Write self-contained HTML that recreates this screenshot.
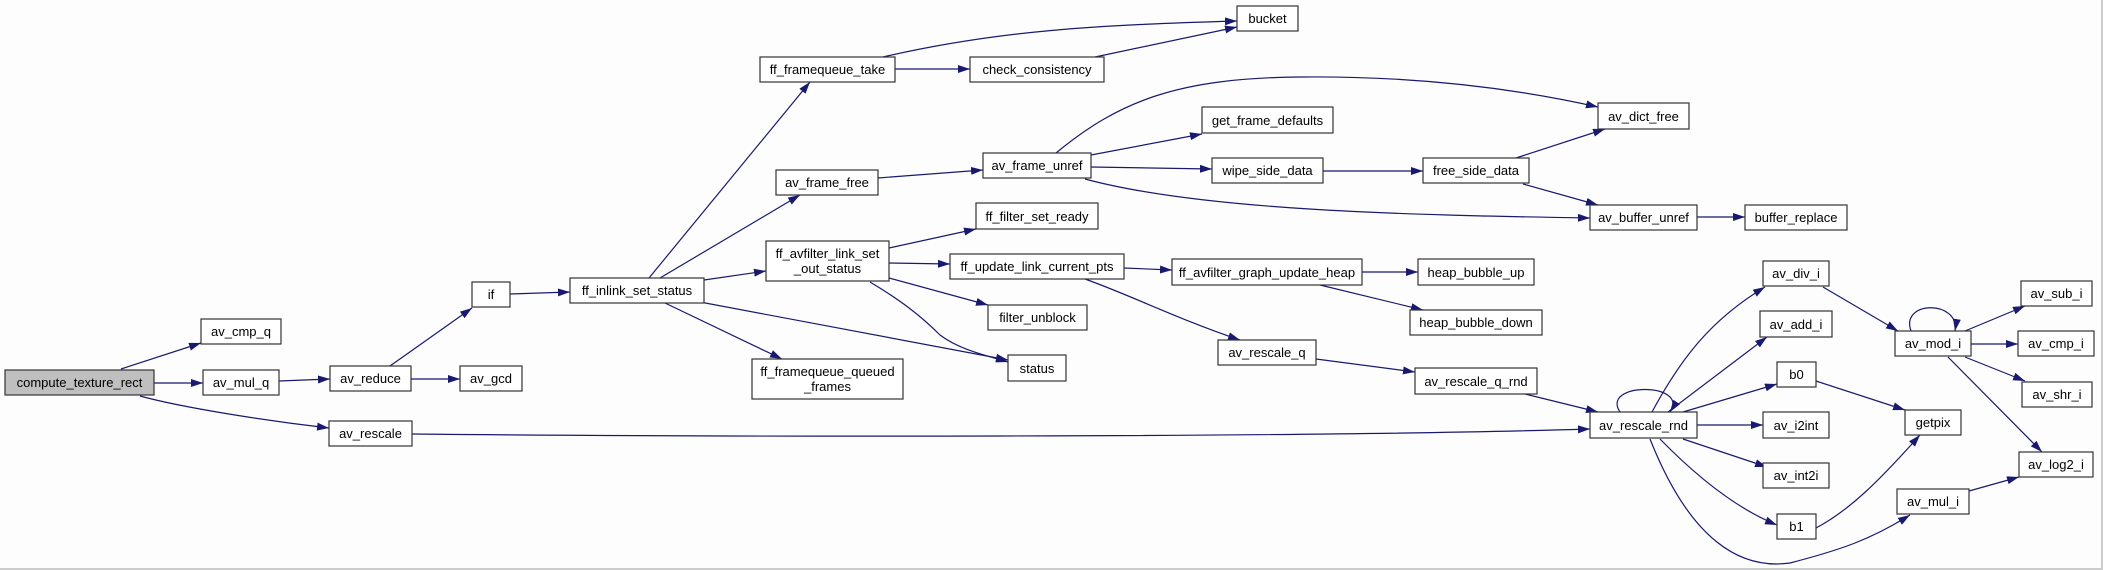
<!DOCTYPE html>
<html><head><meta charset="utf-8"><style>
html,body{margin:0;padding:0;background:#fff;}
svg{display:block;}
text{font-family:"Liberation Sans",Arial,sans-serif;font-size:13px;fill:#000;}
</style></head><body>
<svg width="2103" height="570" viewBox="0 0 2103 570" xmlns="http://www.w3.org/2000/svg">
<defs>
<marker id="a" markerUnits="userSpaceOnUse" markerWidth="13" markerHeight="9" refX="12" refY="4" orient="auto">
<path d="M0,0 L12,4 L0,8 z" fill="#191970"/>
</marker>
</defs>
<rect x="0" y="0" width="2103" height="570" fill="#fdfdfd"/>
<line x1="0" y1="569" x2="2103" y2="569" stroke="#ccc" stroke-width="2"/>
<line x1="2102" y1="0" x2="2102" y2="570" stroke="#ccc" stroke-width="2"/>
<g fill="none" stroke="#191970" stroke-width="1.2" marker-end="url(#a)">
<path d="M121,369 L201,343"/>
<path d="M154,383 L203,383"/>
<path d="M140,396 C180,407 260,420 329,428"/>
<path d="M279,381 L330,379"/>
<path d="M390,366 L472,308"/>
<path d="M411,379 L460,379"/>
<path d="M412,434 C700,437 1300,438 1590,429"/>
<path d="M510,294 L570,292"/>
<path d="M649,278 L810,82"/>
<path d="M660,278 L800,195"/>
<path d="M704,280 L766,271"/>
<path d="M700,302 L1008,360"/>
<path d="M665,303 L782,359"/>
<path d="M883,57 C1000,30 1100,25 1237,21"/>
<path d="M895,69 L970,69"/>
<path d="M1095,57 L1237,27"/>
<path d="M878,178 L983,170"/>
<path d="M1056,153 C1120,100 1180,78 1300,77 C1400,76 1500,85 1598,107"/>
<path d="M1091,155 L1202,134"/>
<path d="M1091,167 L1212,169"/>
<path d="M1085,179 C1200,210 1400,215 1590,218"/>
<path d="M1323,171 L1423,171"/>
<path d="M1516,158 L1605,129"/>
<path d="M1523,184 L1598,205"/>
<path d="M1697,217 L1745,217"/>
<path d="M889,248 L976,229"/>
<path d="M889,263 L950,264"/>
<path d="M889,278 L988,305"/>
<path d="M870,282 C900,300 920,315 940,335 C960,350 985,355 1008,362"/>
<path d="M1124,268 L1172,270"/>
<path d="M1085,279 C1130,295 1180,320 1240,340"/>
<path d="M1362,272 L1418,272"/>
<path d="M1320,285 L1423,310"/>
<path d="M1316,359 L1415,372"/>
<path d="M1525,394 L1598,412"/>
<path d="M1620,412 C1600,382 1690,382 1670,412"/>
<path d="M1652,412 C1680,360 1710,320 1765,287"/>
<path d="M1668,412 L1767,337"/>
<path d="M1683,412 L1777,384"/>
<path d="M1697,425 L1763,425"/>
<path d="M1683,439 L1767,467"/>
<path d="M1660,439 C1700,480 1740,510 1777,525"/>
<path d="M1650,439 C1690,540 1740,570 1790,563 C1840,550 1870,540 1910,515"/>
<path d="M1823,287 L1898,331"/>
<path d="M1816,381 L1905,410"/>
<path d="M1816,528 C1850,510 1880,480 1920,435"/>
<path d="M1911,331 C1900,300 1960,300 1955,331"/>
<path d="M1965,331 L2025,306"/>
<path d="M1971,344 L2018,344"/>
<path d="M1965,357 L2025,381"/>
<path d="M1948,357 L2042,452"/>
<path d="M1969,491 L2019,477"/>
</g>
<g stroke="#333" stroke-width="1.2" fill="#fff">
<rect x="5" y="370" width="149" height="25" fill="#bfbfbf"/>
<rect x="201" y="319" width="80" height="25"/>
<rect x="203" y="370" width="76" height="25"/>
<rect x="330" y="366" width="81" height="25"/>
<rect x="460" y="366" width="62" height="25"/>
<rect x="329" y="421" width="83" height="25"/>
<rect x="472" y="282" width="38" height="25"/>
<rect x="570" y="278" width="134" height="25"/>
<rect x="1237" y="6" width="61" height="25"/>
<rect x="760" y="57" width="135" height="25"/>
<rect x="970" y="57" width="134" height="25"/>
<rect x="1202" y="107" width="131" height="26"/>
<rect x="983" y="153" width="108" height="25"/>
<rect x="1212" y="158" width="111" height="25"/>
<rect x="776" y="170" width="102" height="25"/>
<rect x="976" y="203" width="122" height="26"/>
<rect x="766" y="241" width="123" height="40"/>
<rect x="950" y="254" width="174" height="25"/>
<rect x="1172" y="259" width="190" height="26"/>
<rect x="988" y="305" width="99" height="25"/>
<rect x="1008" y="355" width="58" height="26"/>
<rect x="752" y="359" width="151" height="40"/>
<rect x="1218" y="340" width="98" height="25"/>
<rect x="1598" y="103" width="91" height="26"/>
<rect x="1423" y="158" width="106" height="25"/>
<rect x="1590" y="205" width="107" height="25"/>
<rect x="1745" y="205" width="102" height="25"/>
<rect x="1418" y="259" width="116" height="26"/>
<rect x="1410" y="310" width="132" height="25"/>
<rect x="1415" y="368" width="122" height="26"/>
<rect x="1590" y="412" width="107" height="26"/>
<rect x="1763" y="261" width="66" height="25"/>
<rect x="1760" y="311" width="72" height="26"/>
<rect x="1777" y="362" width="39" height="25"/>
<rect x="1763" y="412" width="66" height="26"/>
<rect x="1763" y="463" width="66" height="25"/>
<rect x="1777" y="514" width="39" height="25"/>
<rect x="1905" y="410" width="56" height="25"/>
<rect x="1895" y="331" width="76" height="25"/>
<rect x="2021" y="281" width="71" height="25"/>
<rect x="2018" y="331" width="76" height="25"/>
<rect x="2022" y="382" width="70" height="25"/>
<rect x="2019" y="452" width="74" height="25"/>
<rect x="1897" y="489" width="72" height="25"/>
</g>
<g text-anchor="middle">
<text x="79.5" y="387">compute_texture_rect</text>
<text x="241" y="336">av_cmp_q</text>
<text x="241" y="387">av_mul_q</text>
<text x="370.5" y="383">av_reduce</text>
<text x="491" y="383">av_gcd</text>
<text x="370.5" y="438">av_rescale</text>
<text x="491" y="299">if</text>
<text x="637" y="295">ff_inlink_set_status</text>
<text x="1267.5" y="23">bucket</text>
<text x="827.5" y="74">ff_framequeue_take</text>
<text x="1037" y="74">check_consistency</text>
<text x="1267.5" y="125">get_frame_defaults</text>
<text x="1037" y="170">av_frame_unref</text>
<text x="1267.5" y="175">wipe_side_data</text>
<text x="827" y="187">av_frame_free</text>
<text x="1037" y="221">ff_filter_set_ready</text>
<text x="827.5" y="258">ff_avfilter_link_set</text>
<text x="827.5" y="273">_out_status</text>
<text x="1037" y="271">ff_update_link_current_pts</text>
<text x="1267" y="277">ff_avfilter_graph_update_heap</text>
<text x="1037.5" y="322">filter_unblock</text>
<text x="1037" y="373">status</text>
<text x="827.5" y="376">ff_framequeue_queued</text>
<text x="827.5" y="391">_frames</text>
<text x="1267" y="357">av_rescale_q</text>
<text x="1643.5" y="121">av_dict_free</text>
<text x="1476" y="175">free_side_data</text>
<text x="1643.5" y="222">av_buffer_unref</text>
<text x="1796" y="222">buffer_replace</text>
<text x="1476" y="277">heap_bubble_up</text>
<text x="1476" y="327">heap_bubble_down</text>
<text x="1476" y="386">av_rescale_q_rnd</text>
<text x="1643.5" y="430">av_rescale_rnd</text>
<text x="1796" y="278">av_div_i</text>
<text x="1796" y="329">av_add_i</text>
<text x="1796.5" y="379">b0</text>
<text x="1796" y="430">av_i2int</text>
<text x="1796" y="480">av_int2i</text>
<text x="1796.5" y="531">b1</text>
<text x="1933" y="427">getpix</text>
<text x="1933" y="348">av_mod_i</text>
<text x="2056.5" y="298">av_sub_i</text>
<text x="2056" y="348">av_cmp_i</text>
<text x="2057" y="399">av_shr_i</text>
<text x="2056" y="469">av_log2_i</text>
<text x="1933" y="506">av_mul_i</text>
</g>
</svg>
</body></html>
